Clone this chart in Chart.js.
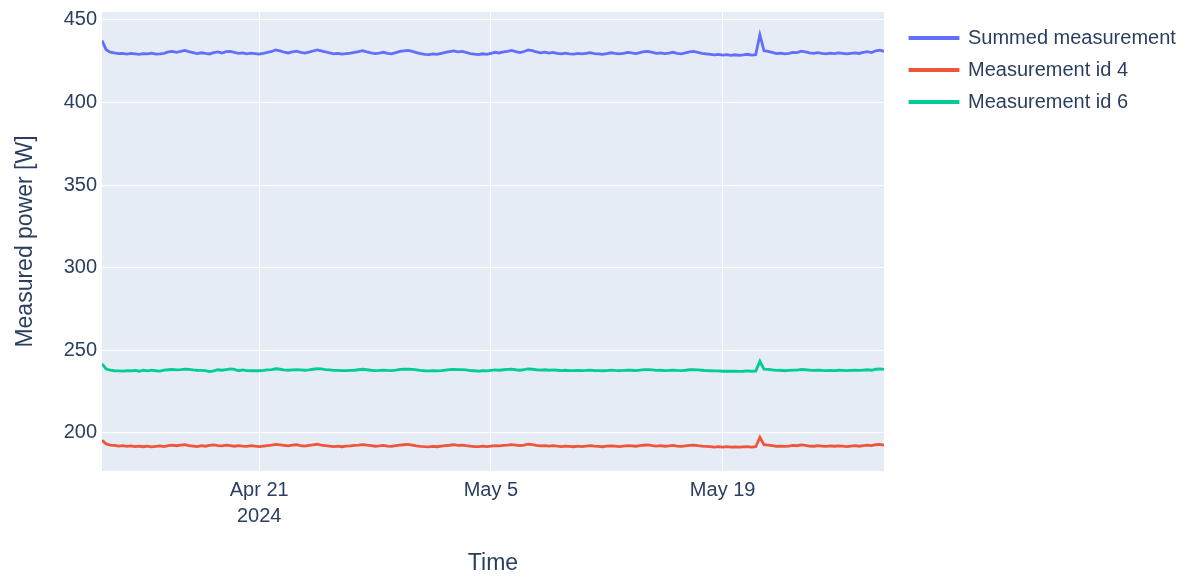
<!DOCTYPE html>
<html>
<head>
<meta charset="utf-8">
<title>Measured power</title>
<script src="https://cdn.jsdelivr.net/npm/chart.js@4.4.1/dist/chart.umd.min.js"></script>
<style>
  html, body { margin: 0; padding: 0; background: #fff; }
</style>
</head>
<body>
<canvas id="powerChart" width="1192" height="577"></canvas>
<script>
// sampling: one reading every 6 hours from Apr 11 2024 12:00
const startTime = Date.UTC(2024, 3, 11, 12);
const stepHours = 6;

const xTickDates = [Date.UTC(2024, 3, 21), Date.UTC(2024, 4, 5), Date.UTC(2024, 4, 19)];
const xTickLabels = [["Apr 21", "2024"], ["May 5"], ["May 19"]];
const yTicks = [200, 250, 300, 350, 400, 450];

const seriesNames = ["Summed measurement", "Measurement id 4", "Measurement id 6"];

const summed = [
  437.5, 432.0, 430.5, 430.0, 429.6, 429.8, 429.3, 429.7, 429.5, 429.2,
  429.6, 429.4, 429.9, 429.3, 429.5, 429.8, 430.6, 431.0, 430.4, 430.9,
  431.5, 430.8, 430.2, 429.6, 430.1, 429.7, 429.4, 430.2, 430.6, 430.0,
  430.8, 431.0, 430.3, 429.8, 430.1, 429.5, 429.9, 429.6, 429.3, 429.8,
  430.4, 430.9, 431.8, 431.2, 430.5, 430.0, 430.6, 431.1, 430.4, 429.9,
  430.5, 431.2, 431.9, 431.3, 430.6, 430.0, 429.5, 429.8, 429.3, 429.6,
  429.9, 430.3, 430.8, 431.4, 430.7, 430.1, 429.6, 429.9, 430.4, 429.8,
  429.5, 430.2, 430.9, 431.3, 431.6, 431.0, 430.2, 429.6, 429.2, 429.0,
  429.4, 429.1, 429.7, 430.3, 430.8, 431.2, 430.7, 430.9, 430.3, 429.6,
  429.3, 429.0, 429.5, 429.2, 429.8, 430.4, 430.0, 430.6, 431.0, 431.5,
  430.8, 430.2, 430.9, 431.8, 431.4, 430.6, 430.1, 430.5, 429.9, 430.3,
  429.8, 429.4, 429.9, 429.5, 429.3, 429.7, 429.4, 429.8, 430.2, 429.6,
  429.5, 429.2, 429.6, 430.1, 429.7, 429.4, 429.8, 430.3, 430.0, 429.6,
  430.2, 430.8, 431.0, 430.4, 429.8, 430.1, 429.6, 429.9, 430.4, 429.8,
  429.5, 430.0, 430.6, 430.9, 430.3, 429.8, 429.5, 429.2, 428.9, 429.1,
  428.7, 429.0, 428.6, 428.9, 428.5, 428.8, 429.2, 428.7, 429.0, 441.0,
  431.4, 431.0, 430.3, 429.6, 429.9, 429.4, 429.8, 430.4, 430.2, 431.1,
  430.6, 430.0, 429.7, 430.2, 429.8, 429.5, 429.9, 429.6, 430.0, 429.7,
  429.4, 429.8, 430.1, 429.7, 430.3, 430.8, 430.2, 431.3, 431.7, 431.0
];

const measurement4 = [
  195.5, 193.3, 192.6, 192.4, 192.0, 192.3, 191.8, 192.1, 191.7, 192.0,
  191.6, 191.9, 191.5, 191.8, 192.1, 191.7, 192.3, 192.6, 192.2, 192.5,
  192.8, 192.3, 192.0, 191.7, 192.2, 191.9, 192.4, 192.7, 192.3, 192.1,
  192.5, 192.2, 191.9, 192.3, 192.0, 191.8, 192.2, 191.9, 191.7, 192.0,
  192.3, 192.6, 193.0, 192.7, 192.4, 192.1, 192.5, 192.8, 192.3, 192.0,
  192.4, 192.7, 193.1, 192.6, 192.3, 191.9, 191.7, 192.0, 191.6, 191.9,
  192.1, 192.4, 192.6, 192.9, 192.5, 192.2, 191.9, 192.1, 192.4, 192.0,
  191.8, 192.2, 192.5, 192.8, 193.0, 192.6, 192.1, 191.8, 191.6, 191.5,
  191.8, 191.6, 192.0, 192.3, 192.5, 192.8, 192.4, 192.6, 192.2, 191.9,
  191.7, 191.6, 191.9, 191.7, 192.0, 192.3, 192.1, 192.4, 192.6, 192.9,
  192.6, 192.3, 192.6, 193.1, 192.9, 192.4, 192.1, 192.3, 192.0, 192.2,
  191.9, 191.7, 192.0, 191.8, 191.6, 191.9, 191.7, 192.0, 192.2, 191.9,
  191.8, 191.6, 191.9, 192.1, 191.9, 191.7, 192.0, 192.3, 192.1, 191.9,
  192.2, 192.5, 192.7, 192.3, 192.0, 192.2, 191.9, 192.1, 192.4, 192.0,
  191.8, 192.1, 192.4, 192.6, 192.2, 191.9, 191.8, 191.6, 191.4, 191.6,
  191.4, 191.6, 191.3, 191.5, 191.3, 191.5, 191.7, 191.4, 191.6, 197.3,
  192.8, 192.6, 192.2, 191.8, 192.0, 191.8, 192.0, 192.4, 192.2, 192.7,
  192.4, 192.0, 191.9, 192.2, 192.0, 191.8, 192.1, 191.9, 192.1, 191.9,
  191.7, 192.0, 192.2, 191.9, 192.3, 192.6, 192.3, 192.8, 193.0, 192.6
];

const measurement6 = [
  241.8, 238.7, 237.9, 237.6, 237.5, 237.4, 237.6, 237.5, 237.8, 237.3,
  237.9, 237.5, 238.0, 237.6, 237.4, 238.0, 238.2, 238.4, 238.1, 238.3,
  238.6, 238.4, 238.1, 237.9, 237.8, 237.7, 237.1, 237.5, 238.2, 237.9,
  238.3, 238.7, 238.4, 237.6, 238.1, 237.7, 237.6, 237.7, 237.6, 237.8,
  238.1, 238.3, 238.8, 238.5, 238.1, 237.9, 238.1, 238.3, 238.1, 237.9,
  238.1, 238.5, 238.8, 238.7, 238.3, 238.1, 237.8, 237.8, 237.7, 237.7,
  237.8, 237.9, 238.2, 238.5, 238.2, 237.9, 237.7, 237.8, 238.0, 237.8,
  237.7, 238.0, 238.4, 238.5, 238.6, 238.4, 238.1, 237.8, 237.6, 237.5,
  237.6, 237.5, 237.7, 238.0, 238.3, 238.4, 238.3, 238.3, 238.1, 237.7,
  237.6, 237.4, 237.6, 237.5, 237.8, 238.1, 237.9, 238.2, 238.4, 238.6,
  238.2, 237.9, 238.3, 238.7, 238.5, 238.2, 238.0, 238.2, 237.9, 238.1,
  237.9, 237.7, 237.9, 237.7, 237.7, 237.8, 237.7, 237.8, 238.0, 237.7,
  237.7, 237.6, 237.7, 238.0, 237.8, 237.7, 237.8, 238.0, 237.9, 237.7,
  238.0, 238.3, 238.3, 238.1, 237.8, 237.9, 237.7, 237.8, 238.0, 237.8,
  237.7, 237.9, 238.2, 238.3, 238.1, 237.9, 237.7, 237.6, 237.5, 237.5,
  237.3, 237.4, 237.3, 237.4, 237.2, 237.3, 237.5, 237.3, 237.4, 243.3,
  238.6, 238.4, 238.1, 237.8, 237.9, 237.6, 237.8, 238.0, 238.0, 238.4,
  238.2, 238.0, 237.8, 238.0, 237.8, 237.7, 237.8, 237.7, 237.9, 237.8,
  237.7, 237.8, 237.9, 237.8, 238.0, 238.2, 237.9, 238.5, 238.7, 238.4
];

const colors = ["#636efa", "#EF553B", "#00cc96"];
const textColor = "#2a3f5f";
const fontFamily = "'Liberation Sans', Arial, sans-serif";

const times = summed.map((_, i) => startTime + i * stepHours * 3600 * 1000);
const toPoints = (vals) => vals.map((v, i) => ({ x: times[i], y: v }));

const plotBg = {
  id: "plotBg",
  afterInit(chart) {
    // fixed legend width so the plot area ends where the reference does
    const lg = chart.legend;
    const fit = lg.fit.bind(lg);
    lg.fit = function () { fit(); this.width = 308; };
  },
  afterLayout(chart) {
    chart.legend.left += 14;
    chart.legend.top += 4;
  },
  beforeDraw(chart) {
    const { ctx, chartArea: a } = chart;
    ctx.save();
    ctx.fillStyle = "#E5ECF6";
    ctx.fillRect(a.left, a.top, a.right - a.left, a.bottom - a.top);
    ctx.restore();
  }
};

const datasets = [summed, measurement4, measurement6].map((vals, i) => ({
  label: seriesNames[i],
  data: toPoints(vals),
  borderColor: colors[i],
  backgroundColor: colors[i],
  borderWidth: 2.8,
  pointRadius: 0,
  tension: 0
}));

new Chart(document.getElementById("powerChart"), {
  type: "line",
  data: { datasets },
  options: {
    responsive: false,
    animation: false,
    devicePixelRatio: 1,
    layout: { padding: { top: 12, left: 0, right: 0, bottom: 0 } },
    plugins: {
      legend: {
        position: "right",
        align: "start",
        labels: {
          boxWidth: 48,
          boxHeight: 1,
          padding: 12,
          color: textColor,
          font: { family: fontFamily, size: 20 }
        }
      },
      tooltip: { enabled: false }
    },
    scales: {
      x: {
        type: "linear",
        min: times[0],
        max: times[times.length - 1],
        afterBuildTicks: (s) => { s.ticks = xTickDates.map(v => ({ value: v })); },
        afterFit: (s) => { s.height = 106; s.paddingLeft = 0; s.paddingRight = 0; },
        ticks: {
          autoSkip: false,
          maxRotation: 0,
          padding: 6,
          color: textColor,
          font: { family: fontFamily, size: 20, lineHeight: 1.3 },
          callback: (v, i) => xTickLabels[i]
        },
        grid: { color: "#ffffff", lineWidth: 1, drawTicks: false },
        border: { display: false },
        title: {
          display: true,
          text: "Time",
          color: textColor,
          font: { family: fontFamily, size: 23 },
          padding: { top: 0, bottom: 0 }
        }
      },
      y: {
        min: 176.9,
        max: 454.8,
        afterBuildTicks: (s) => { s.ticks = yTicks.map(v => ({ value: v })); },
        afterFit: (s) => { s.width = 102; s.paddingTop = 0; s.paddingBottom = 0; },
        ticks: {
          padding: 5,
          color: textColor,
          font: { family: fontFamily, size: 20 }
        },
        grid: { color: "#ffffff", lineWidth: 1, drawTicks: false },
        border: { display: false },
        title: {
          display: true,
          text: "Measured power [W]",
          color: textColor,
          font: { family: fontFamily, size: 23 },
          padding: { top: 12, bottom: 0 }
        }
      }
    }
  },
  plugins: [plotBg]
});
</script>
</body>
</html>
